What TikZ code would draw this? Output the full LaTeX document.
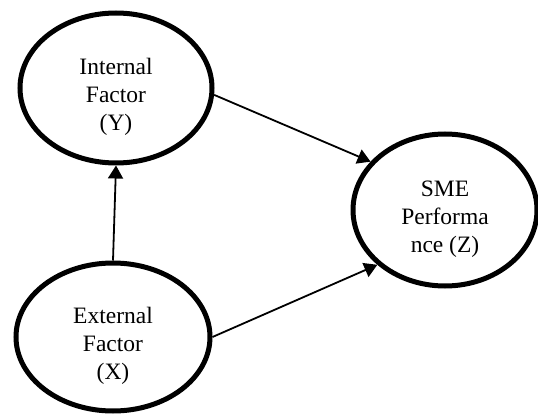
\documentclass[tikz,border=0pt]{standalone}
\usepackage{fontspec}
\setmainfont{Liberation Serif}
\usetikzlibrary{arrows.meta,shapes.geometric}

% text of a factor, set a little below the middle of its ellipse
\newcommand{\factxt}[1]{\raisebox{-15pt}[0pt][0pt]{\begin{tabular}{@{}c@{}}#1\end{tabular}}}

\begin{document}
\begin{tikzpicture}[
  x=1pt, y=-1pt,
  every node/.style={font=\fontsize{23.5}{28}\selectfont},
  fac/.style={draw, ellipse, line width=5pt, inner sep=0pt},
  arr/.style={-{Triangle[length=13pt, width=15pt]}, line width=1.8pt},
]
\useasboundingbox (0,0) rectangle (538,414);

\node[fac, minimum width=192pt, minimum height=150pt] (Y) at (116,88)  {\factxt{Internal\\Factor\\(Y)}};
\node[fac, minimum width=194pt, minimum height=148pt] (X) at (113,337) {\factxt{External\\Factor\\(X)}};
\node[fac, minimum width=184pt, minimum height=152pt] (Z) at (445,210) {\factxt{SME\\Performa\\nce (Z)}};

\draw[arr] (X.north) -- (Y.south);
\draw[arr] (Y.-4) -- (Z.147);
\draw[arr] (X.east) -- (Z.219);
\end{tikzpicture}
\end{document}
